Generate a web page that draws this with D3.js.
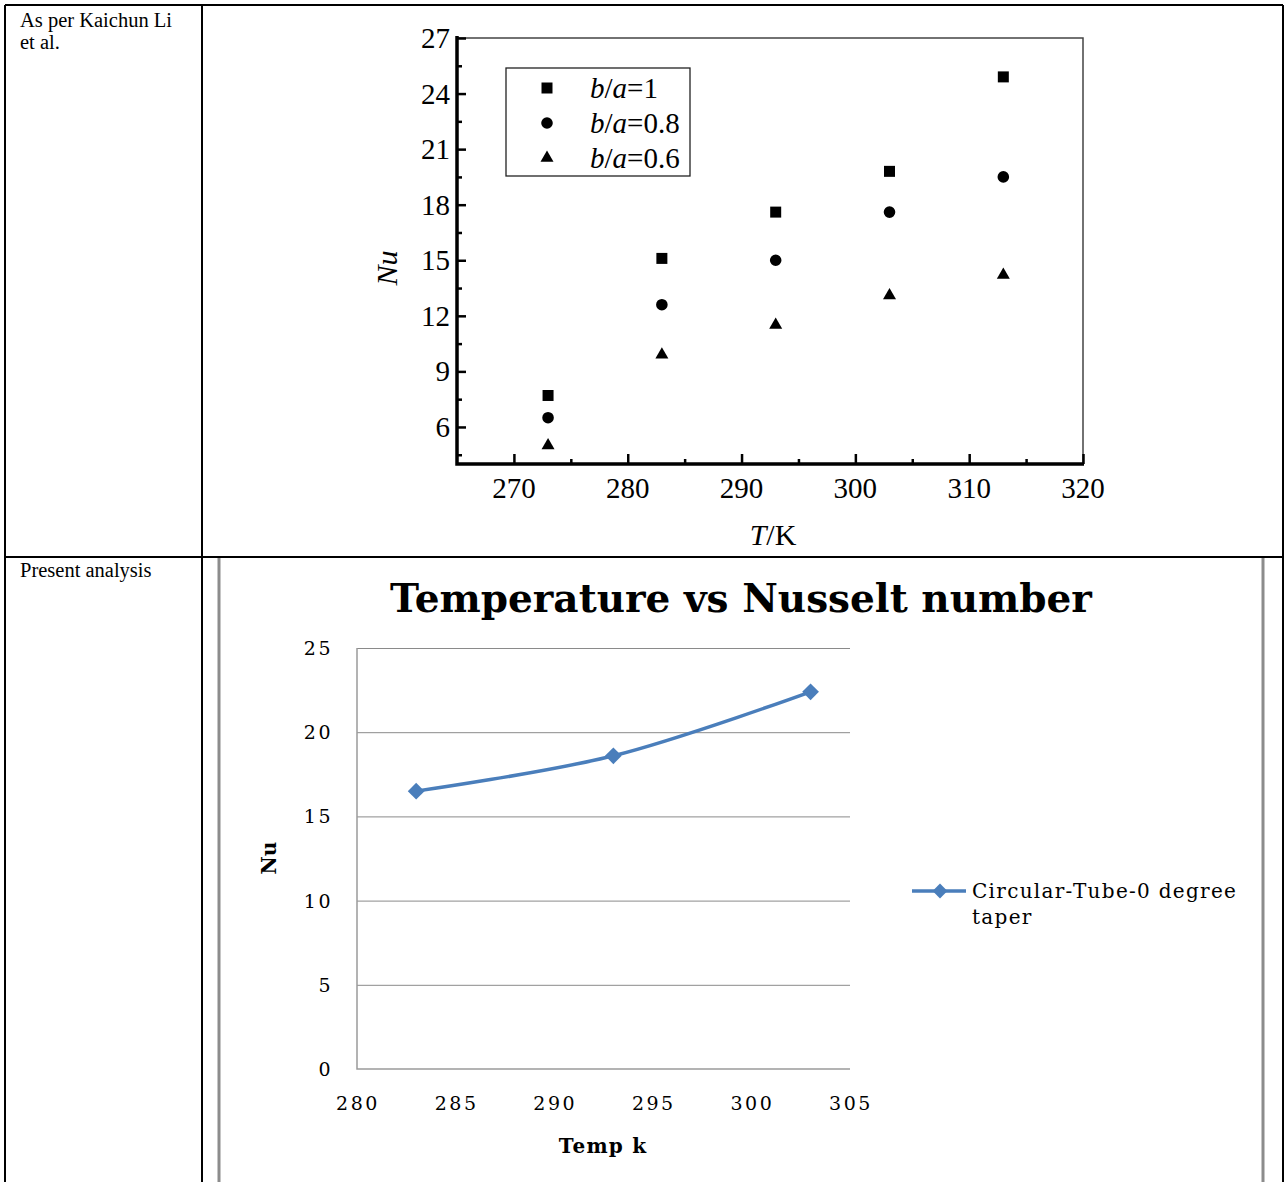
<!DOCTYPE html>
<html>
<head>
<meta charset="utf-8">
<script src="https://cdn.jsdelivr.net/npm/d3@7"></script>
<style>
  body { margin: 0; background: #fff; }
  svg { display: block; }
  .times text { font-family: "Liberation Serif", "Times New Roman", Times, serif; }
  .cambria text { font-family: "DejaVu Serif", Cambria, serif; }
</style>
</head>
<body>
<div id="chart"></div>
<script>
// ---- data ----
// top chart (Kaichun Li et al.)
const topTemps = [273, 283, 293, 303, 313];
const nuBa1 = [7.7, 15.1, 17.6, 19.8, 24.9];
const nuBa08 = [6.5, 12.6, 15.0, 17.6, 19.5];
const nuBa06 = [5.0, 9.9, 11.5, 13.1, 14.2];
const topLegendValues = ["1", "0.8", "0.6"];
const topXTicks = [270, 280, 290, 300, 310, 320];
const topXMinor = [275, 285, 295, 305, 315];
const topYTicks = [6, 9, 12, 15, 18, 21, 24, 27];
const topYMinor = [4.5, 7.5, 10.5, 13.5, 16.5, 19.5, 22.5, 25.5];

// bottom chart (present analysis)
const bottomTemps = [283, 293, 303];
const bottomNu = [16.5, 18.6, 22.4];
const bottomSeriesName = ["Circular-Tube-0 degree", "taper"];
const bottomXTicks = [280, 285, 290, 295, 300, 305];
const bottomYTicks = [0, 5, 10, 15, 20, 25];

const W = 1285, H = 1182;
const svg = d3.select("#chart").append("svg")
    .attr("width", W)
    .attr("height", H);

// ---- table frame ----
const table = svg.append("g").attr("stroke", "#000").attr("stroke-width", 2);
table.append("line").attr("x1", 5).attr("x2", 1283).attr("y1", 5).attr("y2", 5);
table.append("line").attr("x1", 5).attr("x2", 5).attr("y1", 5).attr("y2", H);
table.append("line").attr("x1", 1283).attr("x2", 1283).attr("y1", 5).attr("y2", H);
table.append("line").attr("x1", 202).attr("x2", 202).attr("y1", 5).attr("y2", H);
table.append("line").attr("x1", 5).attr("x2", 1283).attr("y1", 557).attr("y2", 557);

const cellText = svg.append("g")
    .attr("class", "times")
    .style("font-size", "20.5px")
    .attr("fill", "#000");
cellText.append("text").attr("x", 20).attr("y", 27).text("As per Kaichun Li");
cellText.append("text").attr("x", 20).attr("y", 49).text("et al.");
cellText.append("text").attr("x", 20).attr("y", 577).text("Present analysis");

// ---- top chart ----
const t = {left: 457, right: 1083, top: 38, bottom: 464};
const tx = d3.scaleLinear().domain([265, 320]).range([t.left, t.right]);
const ty = d3.scaleLinear().domain([4, 27]).range([t.bottom, t.top]);
const topG = svg.append("g").attr("class", "times");

// thin top/right frame
topG.append("path")
    .attr("d", `M${t.left},${t.top}H${t.right}V${t.bottom}`)
    .attr("fill", "none").attr("stroke", "#444").attr("stroke-width", 1.5);

// y axis with inward ticks
topG.append("g")
    .attr("transform", `translate(${t.left},0)`)
    .call(d3.axisRight(ty).tickValues(topYTicks).tickSize(9).tickFormat(""))
    .call(g => g.select(".domain").remove())
    .selectAll(".tick line").attr("stroke", "#000").attr("stroke-width", 2.5);
topG.append("g")
    .attr("transform", `translate(${t.left},0)`)
    .call(d3.axisRight(ty).tickValues(topYMinor).tickSize(5).tickFormat(""))
    .call(g => g.select(".domain").remove())
    .selectAll(".tick line").attr("stroke", "#000").attr("stroke-width", 2.5);
topG.append("g").selectAll("text")
    .data(topYTicks).join("text")
    .attr("x", t.left - 7)
    .attr("y", d => ty(d) + 10)
    .attr("text-anchor", "end")
    .style("font-size", "29px")
    .text(d => d);

// x axis with inward ticks
topG.append("g")
    .attr("transform", `translate(0,${t.bottom})`)
    .call(d3.axisTop(tx).tickValues(topXTicks).tickSize(10).tickFormat(""))
    .call(g => g.select(".domain").remove())
    .selectAll(".tick line").attr("stroke", "#000").attr("stroke-width", 2.5);
topG.append("g")
    .attr("transform", `translate(0,${t.bottom})`)
    .call(d3.axisTop(tx).tickValues(topXMinor).tickSize(5).tickFormat(""))
    .call(g => g.select(".domain").remove())
    .selectAll(".tick line").attr("stroke", "#000").attr("stroke-width", 2.5);
topG.append("g").selectAll("text")
    .data(topXTicks).join("text")
    .attr("x", d => tx(d))
    .attr("y", t.bottom + 34)
    .attr("text-anchor", "middle")
    .style("font-size", "29px")
    .text(d => d);

// thick axis lines
topG.append("path")
    .attr("d", `M${t.left},${t.top - 2}V${t.bottom}H${t.right + 1}`)
    .attr("fill", "none").attr("stroke", "#000").attr("stroke-width", 3.5);

// axis titles
topG.append("text")
    .attr("transform", `translate(397,268) rotate(-90)`)
    .attr("text-anchor", "middle")
    .style("font-size", "30px")
    .style("font-style", "italic")
    .text("Nu");
const tk = topG.append("text")
    .attr("x", 773).attr("y", 545)
    .attr("text-anchor", "middle")
    .style("font-size", "30px");
tk.append("tspan").style("font-style", "italic").text("T");
tk.append("tspan").text("/K");

// markers
const sq = 11, circR = 5.8, tri = 13;
const markers = [
  {vals: nuBa1, sym: d3.symbolSquare, size: sq * sq},
  {vals: nuBa08, sym: d3.symbolCircle, size: Math.PI * circR * circR},
  {vals: nuBa06, sym: d3.symbolTriangle, size: tri * tri * Math.sqrt(3) / 4}
];
markers.forEach(m => {
  topG.append("g").selectAll("path")
    .data(topTemps.map((x, i) => [x, m.vals[i]]))
    .join("path")
    .attr("transform", d => `translate(${tx(d[0])},${ty(d[1])})`)
    .attr("d", d3.symbol().type(m.sym).size(m.size))
    .attr("fill", "#000");
});

// legend
const lg = topG.append("g");
lg.append("rect")
    .attr("x", 506).attr("y", 68).attr("width", 184).attr("height", 108)
    .attr("fill", "#fff").attr("stroke", "#222").attr("stroke-width", 1.3);
markers.forEach((m, i) => {
  const yy = 88 + i * 35;
  lg.append("path")
    .attr("transform", `translate(547,${yy})`)
    .attr("d", d3.symbol().type(m.sym).size(m.size))
    .attr("fill", "#000");
  const tt = lg.append("text")
      .attr("x", 590).attr("y", yy + 10)
      .style("font-size", "29px");
  tt.append("tspan").style("font-style", "italic").text("b");
  tt.append("tspan").text("/");
  tt.append("tspan").style("font-style", "italic").text("a");
  tt.append("tspan").text("=" + topLegendValues[i]);
});

// ---- bottom chart ----
const botG = svg.append("g").attr("class", "cambria");
botG.append("path")
    .attr("d", `M219,558V${H}M1263,558V${H}`)
    .attr("stroke", "#8c8c8c").attr("stroke-width", 3).attr("fill", "none");

const b = {left: 357, right: 850, top: 648, bottom: 1069};
const bx = d3.scaleLinear().domain([280, 305]).range([b.left, b.right]);
const by = d3.scaleLinear().domain([0, 25]).range([b.bottom, b.top]);

botG.append("text")
    .attr("x", 741).attr("y", 612)
    .attr("text-anchor", "middle")
    .style("font-size", "39px")
    .style("font-weight", "bold")
    .text("Temperature vs Nusselt number");

// gridlines
botG.append("g")
    .attr("transform", `translate(${b.left},0)`)
    .call(d3.axisRight(by).tickValues(bottomYTicks.filter(v => v > 0))
        .tickSize(b.right - b.left).tickFormat(""))
    .call(g => g.select(".domain").remove())
    .selectAll(".tick line").attr("stroke", "#8a8a8a").attr("stroke-width", 1);

// axis lines
botG.append("path")
    .attr("d", `M${b.left},${b.top}V${b.bottom}H${b.right}`)
    .attr("fill", "none").attr("stroke", "#9a9a9a").attr("stroke-width", 1.5);

// tick labels
botG.append("g").selectAll("text")
    .data(bottomYTicks).join("text")
    .attr("x", 333)
    .attr("y", d => by(d) + 7)
    .attr("text-anchor", "end")
    .style("font-size", "19px")
    .style("letter-spacing", "2.5px")
    .text(d => d);
botG.append("g").selectAll("text")
    .data(bottomXTicks).join("text")
    .attr("x", d => bx(d) + 1)
    .attr("y", 1110)
    .attr("text-anchor", "middle")
    .style("font-size", "19px")
    .style("letter-spacing", "2.5px")
    .text(d => d);

// axis titles
botG.append("text")
    .attr("transform", `translate(276,858) rotate(-90)`)
    .attr("text-anchor", "middle")
    .style("font-size", "20px")
    .style("font-weight", "bold")
    .text("Nu");
botG.append("text")
    .attr("x", 603).attr("y", 1153)
    .attr("text-anchor", "middle")
    .style("font-size", "20px")
    .style("font-weight", "bold")
    .style("letter-spacing", "1.2px")
    .text("Temp k");

// series
const blue = "#4a7ebb";
const pts = bottomTemps.map((x, i) => [x, bottomNu[i]]);
botG.append("path")
    .datum(pts)
    .attr("d", d3.line().x(d => bx(d[0])).y(d => by(d[1])).curve(d3.curveCatmullRom.alpha(0.5)))
    .attr("fill", "none").attr("stroke", blue).attr("stroke-width", 3.5);
botG.append("g").selectAll("path")
    .data(pts).join("path")
    .attr("transform", d => `translate(${bx(d[0])},${by(d[1])}) rotate(45)`)
    .attr("d", d3.symbol().type(d3.symbolSquare).size(140))
    .attr("fill", blue);

// legend
botG.append("line")
    .attr("x1", 912).attr("x2", 966).attr("y1", 891).attr("y2", 891)
    .attr("stroke", blue).attr("stroke-width", 3.5);
botG.append("path")
    .attr("transform", "translate(940,891) rotate(45)")
    .attr("d", d3.symbol().type(d3.symbolSquare).size(110))
    .attr("fill", blue);
botG.append("g").selectAll("text")
    .data(bottomSeriesName).join("text")
    .attr("x", 972)
    .attr("y", (d, i) => 898 + i * 26)
    .style("font-size", "20px")
    .style("letter-spacing", "1.3px")
    .text(d => d);
</script>
</body>
</html>
